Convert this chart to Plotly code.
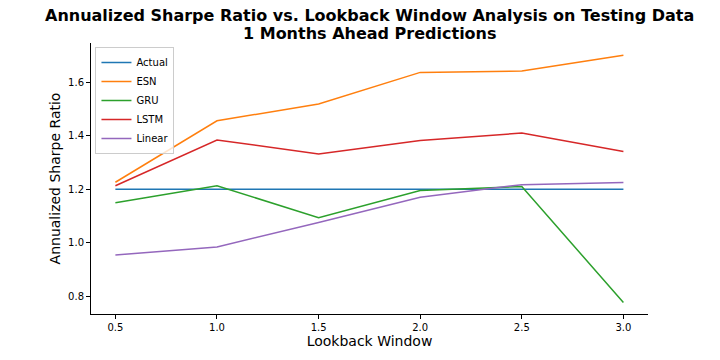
import plotly.graph_objects as go

lookback = [0.5, 1.0, 1.5, 2.0, 2.5, 3.0]
actual = [1.2, 1.2, 1.2, 1.2, 1.2, 1.2]
esn = [1.226, 1.456, 1.519, 1.637, 1.642, 1.701]
gru = [1.149, 1.213, 1.093, 1.195, 1.210, 0.776]
lstm = [1.213, 1.384, 1.332, 1.382, 1.410, 1.341]
linear = [0.954, 0.984, 1.075, 1.170, 1.217, 1.225]
title_lines = ["Annualized Sharpe Ratio vs. Lookback Window Analysis on Testing Data",
               "1 Months Ahead Predictions"]

series = [
    ("Actual", actual, "#1f77b4"),
    ("ESN", esn, "#ff7f0e"),
    ("GRU", gru, "#2ca02c"),
    ("LSTM", lstm, "#d62728"),
    ("Linear", linear, "#9467bd"),
]

fig = go.Figure()
for nome, valores, cor in series:
    fig.add_trace(go.Scatter(
        x=lookback, y=valores, name=nome, mode="lines",
        line=dict(color=cor, width=1.5)
    ))

# titulo em duas anotacoes para controlar o espacamento entre linhas
for linha, deslocamento in zip(title_lines, [28, 10]):
    fig.add_annotation(
        text="<b>" + linha + "</b>", xref="paper", yref="paper",
        x=0.5, y=1, yshift=deslocamento, xanchor="center", yanchor="middle",
        showarrow=False, font=dict(family="DejaVu Sans", size=16, color="black"),
    )

eixo = dict(
    showgrid=False, zeroline=False, showline=True, linecolor="black", linewidth=1,
    ticks="outside", ticklen=4, tickcolor="black", mirror=False, automargin=False,
    tickfont=dict(family="DejaVu Sans", size=10, color="black"),
)

fig.update_layout(
    width=720, height=360,
    paper_bgcolor="white", plot_bgcolor="white",
    margin=dict(l=91, r=72, t=43, b=46),
    font=dict(family="DejaVu Sans", color="black"),
    xaxis=dict(eixo, range=[0.38, 3.121], tickvals=[0.5, 1.0, 1.5, 2.0, 2.5, 3.0],
               ticktext=["0.5", "1.0", "1.5", "2.0", "2.5", "3.0"],
               title=dict(text="Lookback Window", font=dict(size=14), standoff=4)),
    yaxis=dict(eixo, range=[0.733, 1.747], tickvals=[0.8, 1.0, 1.2, 1.4, 1.6],
               ticktext=["0.8", "1.0", "1.2", "1.4", "1.6"],
               title=dict(text="Annualized Sharpe Ratio", font=dict(size=14), standoff=4)),
    legend=dict(
        x=0.008, y=0.985, xanchor="left", yanchor="top",
        bgcolor="rgba(255,255,255,0.8)", bordercolor="#cccccc", borderwidth=1,
        font=dict(family="DejaVu Sans", size=10, color="black"),
        tracegroupgap=0, itemwidth=30,
    ),
)

# tira a margem padrao do body para o grafico ocupar a janela toda
fig.write_html("out.html", config={"displayModeBar": False},
               post_script="document.body.style.margin='0';")
